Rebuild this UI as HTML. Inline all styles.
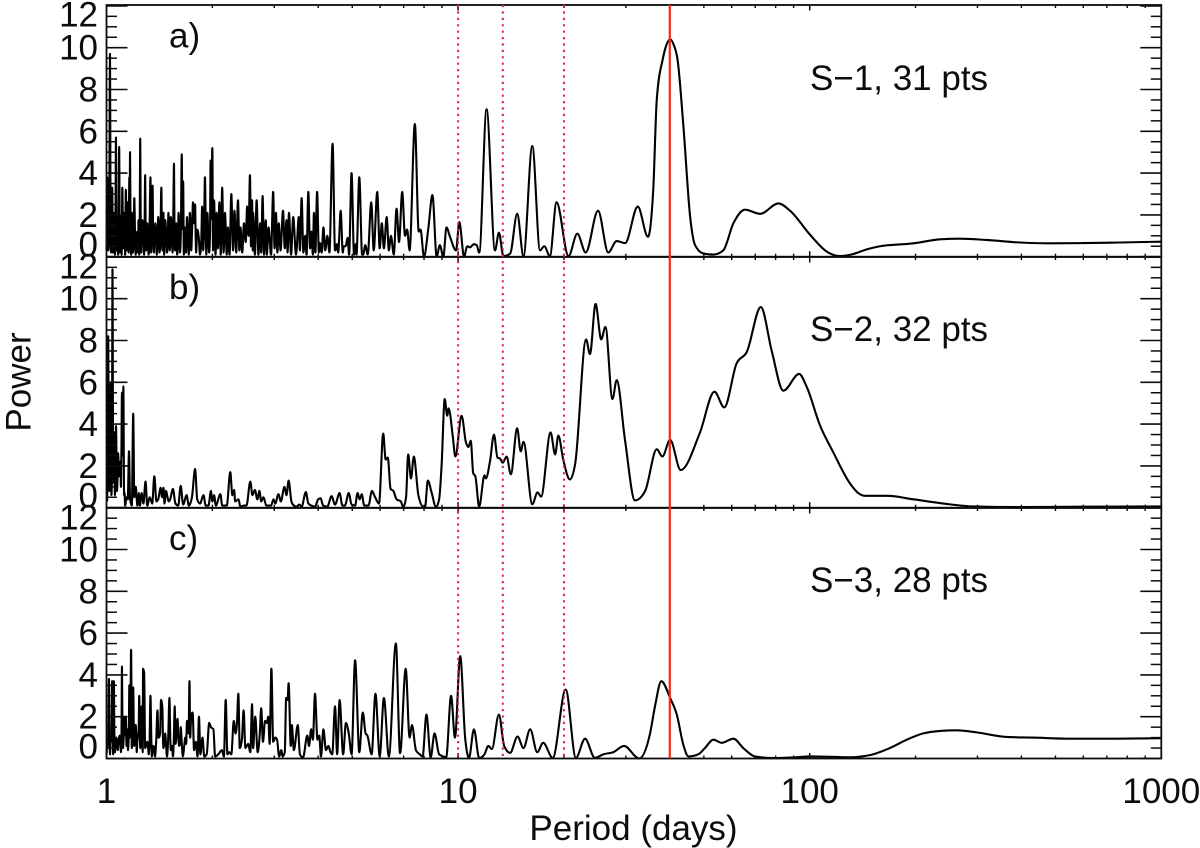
<!DOCTYPE html>
<html lang="en">
<head>
<meta charset="utf-8">
<title>Periodograms of S-1, S-2 and S-3</title>
<style>
html,body{margin:0;padding:0;background:#fff;}
svg{display:block;width:1200px;height:848px;}
text{font-family:"Liberation Sans",Arial,sans-serif;font-size:35px;fill:#0c0c0c;}
</style>
</head>
<body>
<svg id="chart" xmlns="http://www.w3.org/2000/svg" width="1200" height="848" viewBox="0 0 1200 848">
  <rect x="0" y="0" width="1200" height="848" fill="#ffffff"/>
  <g id="layer-panels"></g>
  <text transform="translate(30.5,382) rotate(-90)" text-anchor="middle">Power</text>
  <text x="633.5" y="840" text-anchor="middle">Period (days)</text>
  <text x="169" y="47.5">a)</text>
  <text x="169" y="299">b)</text>
  <text x="169" y="550">c)</text>
  <text x="810" y="90">S&#8722;1, 31 pts</text>
  <text x="810" y="341">S&#8722;2, 32 pts</text>
  <text x="810" y="592">S&#8722;3, 28 pts</text>
</svg>
<script>
// ---- Data: log10(period in days) and power ----
const s1LogPeriod = [
0,.002,.005,.010,.013,.016,.018,.021,.024,.027,
.029,.031,.033,.036,.038,.041,.043,.045,.048,.051,
.053,.055,.057,.060,.063,.065,.066,.067,.070,.072,
.075,.079,.083,.086,.089,.091,.093,.096,.099,.102,
.107,.110,.113,.116,.120,.125,.127,.131,.135,.139,
.143,.147,.151,.156,.159,.162,.164,.167,.172,.176,
.180,.183,.188,.192,.195,.198,.201,.205,.209,.214,
.216,.218,.220,.223,.226,.229,.234,.237,.241,.246,
.249,.252,.255,.258,.266,.272,.275,.280,.284,.287,
.292,.296,.298,.301,.303,.306,.310,.313,.317,.321,
.325,.329,.333,.337,.342,.345,.350,.355,.360,.364,
.369,.374,.378,.381,.386,.391,.396,.400,.404,.408,
.411,.414,.416,.417,.422,.427,.432,.437,.440,.444,
.448,.453,.456,.461,.468,.474,.478,.482,.486,.490,
.495,.502,.507,.512,.515,.519,.525,.531,.539,.547,
.550,.555,.560,.565,.569,.574,.579,.583,.587,.590,
.594,.599,.604,.607,.612,.617,.622,.628,.634,.643,
.650,.655,.659,.666,.672,.675,.680,.686,.690,.697,
.704,.709,.711,.719,.727,.730,.736,.743,.753,.760,
.770,.777,.783,.789,.797,.803,.809,.817,.825,.832,
.841,.849,.855,.862,.877,.888,.893,.903,.915,.927,
.939,.948,.958,.967,.977,.994,1.0035,1.017,1.026,1.034,
1.045,1.053,1.060,1.081,1.105,1.116,1.129,1.148,1.168,1.186,
1.211,1.233,1.245,1.261,1.280,1.314,1.339,1.363,1.398,1.427,
1.451,1.475,1.511,1.540,1.555,1.565,1.582,1.593,1.603,1.613,1.624,1.641,
1.660,1.674,1.698,1.726,1.754,1.783,1.816,1.859,1.911,1.944,
2.001,2.048,2.086,2.124,2.162,2.200,2.295,2.371,2.427,2.503,
2.598,2.683,2.778,2.882,3.0];
const s1Power = [
.3,3.8,.3,9.7,.2,3.3,.2,2.1,.1,5.7,
.3,1.9,.1,5.25,.2,1.9,.1,3.3,.4,2.1,
.1,3.2,.3,2.6,.2,3.8,2.5,5.0,.1,2.1,
.2,2.8,.1,1.1,.2,1.75,.1,5.65,.2,1.75,
.1,3.9,.3,1.6,.1,3.8,.2,3.4,.2,1.6,
.1,1.9,.2,3.3,.3,2.1,.1,1.75,.2,2.1,
.3,1.9,.2,4.45,.3,1.6,.1,2.1,.2,4.9,
1.5,3.6,.1,1.4,.2,1.9,.1,2.1,.3,2.6,
1.6,2.5,.2,1.3,.1,2.4,.3,3.8,.1,2.1,
.2,4.6,1.8,5.2,.3,2.7,.1,2.1,.4,2.6,
.1,3.3,.2,2.1,.1,1.4,.1,3.0,.3,2.2,
.2,2.7,.3,1.4,.2,1.6,.7,2.4,1.0,3.9,
.5,2.7,.3,2.1,.1,2.7,.1,1.6,.2,2.9,
.1,1.75,.1,1.4,.1,3.1,.4,2.1,.2,1.6,
.3,2.2,.4,1.75,.2,2.1,.1,1.9,.1,1.9,
.3,2.8,.2,1.0,.1,3.1,.4,1.2,.1,2.1,
.2,3.1,.2,.65,.2,1.4,.3,1.0,.2,5.4,
.3,.6,.2,2.2,.2,.5,.5,.9,.1,4.0,
.1,.6,.1,3.8,.1,.1,.55,.1,2.6,.3,
3.1,.4,1.6,.4,1.9,.3,1.0,.1,2.3,.7,
3.1,1.0,1.3,.3,6.35,1.2,1.3,0,1.3,2.95,
0,.55,0,1.4,.95,.3,1.65,0,.5,.45,
.6,.55,.2,7.05,.3,1.15,.03,.15,2.05,.03,
5.3,.3,.5,.03,2.6,.03,1.1,.2,2.2,.2,
.75,.65,2.4,.95,3.2,7.5,9.45,10.15,10.4,10.15,9.45,6.2,
1.9,.55,.15,.1,.3,1.6,2.25,2.05,2.55,2.2,
1.05,.25,.03,.13,.35,.5,.64,.83,.86,.8,
.68,.64,.65,.68,.72];
// Low-level fine structure of the dense short-period forest
const s1FineLogPeriod = [
.0035,.0075,.0115,.0145,.0175,.0195,.0225,.0255,.0285,.0325,
.0345,.0395,.0425,.0465,.0495,.0525,.0565,.0585,.0615,.0635,
.0685,.0735,.0775,.0815,.0845,.0875,.0905,.0945,.0975,.1005,
.1045,.1085,.1115,.1145,.1175,.1225,.1285,.1325,.1365,.1415,
.1455,.1495,.1535,.1575,.1605,.1655,.1695,.1745,.1785,.1855,
.1895,.1935,.1965,.1995,.2035,.2075,.2115,.2175,.2215,.2245,
.2275,.2315,.2355,.2395,.2435,.2535,.2625,.2695,.2735,.2775,
.2825,.2895,.2945,.3045,.3085,.3115,.3155];
const s1FinePower = [
1.6,1.1,1.8,1.4,1.2,1.7,.9,1.5,2.2,1.3,
1.1,1.6,.9,1.7,1.2,.8,1.4,1.5,.9,1.3,
1.2,1.5,1.0,.8,.7,1.2,.9,1.8,.8,1.1,
1.4,1.7,1.0,.7,.9,1.4,1.1,1.3,.8,.9,
.8,1.2,1.1,1.4,.7,.9,1.2,.8,1.0,1.1,
1.3,.9,1.0,.7,1.0,.8,1.2,1.3,.8,.6,
1.0,.9,.8,1.2,1.4,1.0,.9,.7,1.3,1.4,
1.1,1.0,1.2,1.1,.9,.7,1.1];

const s2LogPeriod = [
.002,.005,.008,.012,.014,.017,.019,.022,.024,.027,
.030,.033,.036,.038,.041,.044,.046,.048,.050,.053,
.057,.064,.067,.072,.076,.079,.083,.088,.092,.095,
.100,.105,.111,.116,.123,.130,.136,.142,.147,.154,
.158,.162,.165,.169,.177,.181,.189,.196,.204,.211,
.218,.228,.234,.243,.252,.258,.266,.276,.282,.290,
.297,.301,.306,.311,.324,.329,.342,.352,.358,.363,
.366,.375,.381,.391,.398,.409,.415,.422,.429,.435,
.440,.446,.455,.468,.475,.480,.489,.496,.506,.512,
.518,.526,.533,.541,.548,.555,.567,.574,.583,.593,
.602,.609,.616,.628,.640,.650,.663,.671,.678,.689,
.697,.707,.714,.720,.726,.733,.745,.755,.764,.775,
.787,.794,.800,.808,.816,.825,.837,.844,.852,.858,
.866,.874,.887,.901,.906,.914,.925,.937,.946,.953,
.962,.969,.973,.985,.992,1.010,1.022,1.029,1.036,1.043,
1.049,1.060,1.075,1.079,1.091,1.102,1.112,1.119,1.127,1.138,
1.150,1.168,1.178,1.186,1.211,1.226,1.236,1.263,1.276,1.285,
1.299,1.318,1.333,1.364,1.375,1.391,1.407,1.419,1.439,1.451,
1.475,1.503,1.532,1.565,1.581,1.603,1.633,1.688,1.729,1.757,
1.792,1.821,1.861,1.892,1.925,1.970,1.991,2.029,2.067,2.115,
2.138,2.157,2.219,2.295,2.380,2.465,2.598,2.778,3.0];
const s2Power = [
.3,8.2,.8,6.0,.6,11.4,1.2,3.6,.6,3.9,
.8,2.6,1.5,2.0,1.0,5.5,2.5,5.8,.6,.1,
.5,2.7,.4,.1,4.5,.5,1.0,.1,.7,.1,
.7,.2,1.25,.1,.5,.2,1.5,.3,.4,.95,
.5,.95,.2,.8,.3,.4,.9,.2,.1,1.05,
.15,.6,.1,.5,1.85,.4,.2,.6,.1,.1,
.8,.3,.6,.1,.65,.1,.1,1.7,.6,.85,
.3,.4,.05,.1,.1,1.25,.6,.85,.4,.8,
.3,.5,.1,.1,.4,.2,.65,.3,1.0,.6,
1.3,.3,.1,.05,.15,.05,.75,.2,.1,.05,
.4,.45,.1,.05,.55,.15,.7,.1,.1,.7,
.15,.1,.7,.4,.65,.1,.1,.8,.5,.2,
3.55,2.3,2.4,.9,.8,.4,.3,.03,.5,2.55,
1.4,2.45,.6,.05,.05,1.3,.7,.03,.4,2.0,
5.2,4.4,4.75,3.4,2.45,4.4,3.15,2.9,3.2,1.65,
1.5,.05,1.55,1.4,2.25,3.5,2.4,2.35,2.15,2.45,
1.6,3.8,2.7,3.15,.17,.73,.53,3.6,2.55,3.45,
2.3,1.35,2.1,8.05,7.35,9.75,8.05,8.65,5.2,6.1,
3.2,.35,.8,2.8,2.45,3.25,1.8,3.6,5.55,4.8,
6.9,7.45,9.6,7.5,5.6,6.4,5.8,3.95,2.65,1.15,
.7,.57,.57,.4,.2,.06,.03,.05,.06];
const s2FineLogPeriod = [.0065,.0105,.0155,.0205,.0255,.0315,.0395,.0425,.0515,.0605];
const s2FinePower = [1.5,2.2,1.7,2.5,2.0,1.6,2.2,2.8,.7,.4];

const s3LogPeriod = [
0,.003,.007,.010,.013,.016,.019,.021,.024,.027,
.032,.038,.041,.044,.047,.051,.055,.057,.061,.065,
.066,.070,.072,.076,.079,.083,.086,.089,.093,.096,
.100,.103,.104,.107,.110,.116,.120,.125,.129,.133,
.138,.145,.149,.155,.159,.162,.167,.172,.179,.183,
.189,.194,.198,.202,.207,.211,.217,.224,.229,.236,
.238,.241,.245,.249,.254,.259,.263,.267,.273,.278,
.285,.292,.297,.304,.309,.318,.328,.334,.339,.344,
.349,.355,.362,.367,.371,.375,.379,.385,.390,.395,
.403,.409,.414,.417,.423,.430,.436,.440,.445,.451,
.456,.460,.464,.469,.474,.480,.485,.491,.497,.501,
.507,.511,.515,.518,.524,.527,.533,.544,.550,.559,
.571,.576,.582,.587,.593,.600,.605,.610,.617,.624,
.631,.637,.642,.650,.656,.663,.673,.681,.689,.697,
.707,.719,.729,.737,.742,.754,.765,.777,.789,.803,
.823,.835,.851,.862,.869,.880,.891,.899,.910,.922,
.933,.946,.958,.966,.980,.991,1.006,1.020,1.031,1.045,
1.060,1.075,1.086,1.096,1.116,1.131,1.148,1.169,1.186,1.205,
1.225,1.242,1.269,1.306,1.335,1.361,1.389,1.413,1.441,1.472,
1.515,1.546,1.560,1.578,1.603,1.622,1.641,1.655,1.683,1.702,
1.726,1.750,1.783,1.811,1.844,1.897,1.953,2.001,2.115,2.171,
2.228,2.276,2.323,2.371,2.418,2.475,2.560,2.636,2.731,2.873,
3.0];
const s3Power = [
.2,.6,3.8,.2,.8,3.7,.2,3.7,.3,1.0,
.4,1.1,.3,4.4,.5,2.0,2.0,.6,.4,3.5,
1.0,5.2,.5,3.4,.6,1.6,.3,1.0,3.0,.5,
2.5,.3,4.3,4.1,.5,.8,.2,3.0,.1,.6,
.1,2.3,1.0,2.8,2.4,.5,1.2,.1,2.9,.4,
.1,2.5,1.0,1.9,.6,1.5,.1,1.0,1.8,3.7,
1.0,2.1,2.2,.4,.8,.1,2.0,.2,1.0,.1,
.2,1.7,1.5,1.4,.1,.2,.4,.1,2.8,.2,
.3,.2,1.8,1.2,1.7,3.1,.5,.9,2.3,.5,
.7,.3,2.6,.5,2.0,.3,1.2,2.4,.8,1.8,
1.7,2.0,.7,4.3,.8,1.0,.9,.1,.4,.1,
.3,2.9,2.8,3.6,.6,1.6,.4,1.6,.2,.05,
1.1,.6,1.4,.9,3.1,.9,1.1,.1,1.4,.4,
.6,.3,.2,2.5,.2,2.8,.2,1.7,1.2,.2,
4.7,.3,2.2,1.2,1.1,.2,3.1,.1,2.9,.1,
5.5,.25,4.3,1.0,1.6,.4,.2,.1,2.1,.05,
1.2,.2,.1,.05,3.0,1.0,4.9,1.0,.03,1.4,
.02,.2,.6,.45,2.1,.6,.27,1.05,.5,1.4,
.3,.75,.03,3.3,.03,.95,.03,.2,.3,.6,
0,1.2,2.5,3.7,2.9,2.1,.63,.1,.2,.5,
.9,.75,.95,.5,.1,.02,.05,.1,.06,.16,
.5,.9,1.2,1.32,1.35,1.25,1.03,1.0,.95,.95,
.97];
const s3FineLogPeriod = [
.0015,.0055,.0085,.0115,.0145,.0175,.0225,.0295,.0355,.0395,
.0425,.0455,.0495,.0535,.0595,.0635,.0675,.0745,.0775,.0815,
.0845,.0875,.0915,.0985,.1015,.1125,.1185,.1225,.1275,.1355,
.1415,.1475,.1525,.1605,.1645,.1695,.1755,.1815,.1865,.1915,
.1965,.2045,.2095,.2145,.2205,.2265,.2335];
const s3FinePower = [
.5,1.0,1.2,.9,1.1,1.3,1.0,.9,1.0,.8,
.9,1.2,1.3,1.1,1.4,1.2,1.5,1.3,1.6,1.0,
1.2,.8,1.3,1.1,1.2,.6,.5,.8,.9,.5,
.9,1.0,1.2,1.0,.8,.6,1.0,.9,.6,.9,
.7,.9,.8,.6,.5,.7,1.2];

const xTickLabels = ["1", "10", "100", "1000"];
const xDecades = [1, 10, 100, 1000];
const xMinorMultiples = [2, 3, 4, 5, 6, 7, 8, 9];
const yMajorTicks = [0, 2, 4, 6, 8, 10, 12];
const yMinorTicks = [0.5, 1, 1.5, 2.5, 3, 3.5, 4.5, 5, 5.5, 6.5, 7, 7.5, 8.5, 9, 9.5, 10.5, 11, 11.5];
const dottedPeriods = [10, 13.4, 20];
const solidPeriods = [40];

// ---- Axis functions ----
const NS = "http://www.w3.org/2000/svg";
const AXIS_LEFT = 106.5, AXIS_RIGHT = 1161.3, PX_PER_DECADE = 351.6, PX_PER_POWER = 20.9;
const INK = "#0c0c0c";
function xFromLog(logP) { return AXIS_LEFT + PX_PER_DECADE * logP; }
function xFromPeriod(p) { return xFromLog(Math.log10(p)); }
function make(tag, parent) {
  const el = document.createElementNS(NS, tag);
  parent.appendChild(el);
  return el;
}
function drawLine(el, x1, y1, x2, y2, width, color) {
  el.setAttribute("x1", x1);
  el.setAttribute("y1", y1);
  el.setAttribute("x2", x2);
  el.setAttribute("y2", y2);
  el.setAttribute("stroke", color);
  el.setAttribute("stroke-width", width);
}
function mergeSeries(logA, powA, logB, powB) {
  const pairs = [];
  logA.forEach(function (v, i) { pairs.push([v, powA[i]]); });
  logB.forEach(function (v, i) { pairs.push([v, powB[i]]); });
  pairs.sort(function (p, q) { return p[0] - q[0]; });
  return pairs;
}
function sgn(v) { return v < 0 ? -1 : 1; }
function monotonePath(xs, ys) {
  const n = Math.min(xs.length, ys.length);
  const t = new Array(n);
  for (let i = 1; i < n - 1; i++) {
    const h0 = xs[i] - xs[i - 1], h1 = xs[i + 1] - xs[i];
    const s0 = (ys[i] - ys[i - 1]) / h0, s1 = (ys[i + 1] - ys[i]) / h1;
    const p = (s0 * h1 + s1 * h0) / (h0 + h1);
    t[i] = (sgn(s0) + sgn(s1)) * Math.min(Math.abs(s0), Math.abs(s1), 0.5 * Math.abs(p)) || 0;
  }
  t[0] = (ys[1] - ys[0]) / (xs[1] - xs[0]);
  t[n - 1] = (ys[n - 1] - ys[n - 2]) / (xs[n - 1] - xs[n - 2]);
  let d = "M" + xs[0].toFixed(2) + " " + ys[0].toFixed(2);
  for (let i = 1; i < n; i++) {
    const dx = (xs[i] - xs[i - 1]) / 3;
    d += "C" + (xs[i - 1] + dx).toFixed(2) + " " + (ys[i - 1] + dx * t[i - 1]).toFixed(2) + " " +
      (xs[i] - dx).toFixed(2) + " " + (ys[i] - dx * t[i]).toFixed(2) + " " +
      xs[i].toFixed(2) + " " + ys[i].toFixed(2);
  }
  return d;
}

// ---- Panels ----
const panelsRoot = document.getElementById("layer-panels");
const panels = [
  { id: "a", top: 5, bottom: 256.7, pairs: mergeSeries(s1LogPeriod, s1Power, s1FineLogPeriod, s1FinePower) },
  { id: "b", top: 257, bottom: 507.7, pairs: mergeSeries(s2LogPeriod, s2Power, s2FineLogPeriod, s2FinePower) },
  { id: "c", top: 508, bottom: 758.5, pairs: mergeSeries(s3LogPeriod, s3Power, s3FineLogPeriod, s3FinePower) }
];

panels.forEach(function (panel, index) {
  const yScale = function (v) { return panel.bottom - PX_PER_POWER * v; };

  const g = make("g", panelsRoot);
  
  

  const curve = make("path", g);
  
  
  curve.setAttribute("fill", "none");
  curve.setAttribute("stroke", "#000");
  curve.setAttribute("stroke-width", "2.1");
  curve.setAttribute("stroke-linejoin", "round");
  curve.setAttribute("d", monotonePath(
    panel.pairs.map(function (p) { return xFromLog(p[0]); }),
    panel.pairs.map(function (p) { return yScale(p[1]); })
  ));

  const frame = make("rect", g);
  
  
  frame.setAttribute("x", AXIS_LEFT);
  frame.setAttribute("y", panel.top);
  frame.setAttribute("width", AXIS_RIGHT - AXIS_LEFT);
  frame.setAttribute("height", panel.bottom - panel.top);
  frame.setAttribute("fill", "none");
  frame.setAttribute("stroke", INK);
  frame.setAttribute("stroke-width", "1.8");

  yMajorTicks.forEach(function (v) {
    const y = yScale(v);
    const left = make("line", g);
    
    
    drawLine(left, AXIS_LEFT, y, AXIS_LEFT + 21, y, 1.6, INK);
    const right = make("line", g);
    
    
    drawLine(right, AXIS_RIGHT - 21, y, AXIS_RIGHT, y, 1.6, INK);
    const label = make("text", g);
    
    
    label.setAttribute("x", 98);
    let base = y + 12;
    if (v === yMajorTicks[yMajorTicks.length - 1]) base = panel.top + 21.5;
    if (v === yMajorTicks[0]) base = panel.bottom;
    label.setAttribute("y", base);
    label.setAttribute("text-anchor", "end");
    label.textContent = String(v);
  });

  yMinorTicks.forEach(function (v) {
    const y = yScale(v);
    const left = make("line", g);
    
    
    drawLine(left, AXIS_LEFT, y, AXIS_LEFT + 10.5, y, 1.5, INK);
    const right = make("line", g);
    
    
    drawLine(right, AXIS_RIGHT - 10.5, y, AXIS_RIGHT, y, 1.5, INK);
  });

  xDecades.forEach(function (decade, di) {
    const x = xFromPeriod(decade);
    if (di > 0 && di < xDecades.length - 1) {
      const topTick = make("line", g);
      
      
      drawLine(topTick, x, panel.top, x, panel.top + 5.5, 1.5, INK);
      const botTick = make("line", g);
      
      
      drawLine(botTick, x, panel.bottom - 5.5, x, panel.bottom, 1.5, INK);
    }
    if (di < xDecades.length - 1) {
      xMinorMultiples.forEach(function (m) {
        const xm = xFromPeriod(decade * m);
        const topMinor = make("line", g);
        
        
        drawLine(topMinor, xm, panel.top, xm, panel.top + 3, 1.4, INK);
        const botMinor = make("line", g);
        
        
        drawLine(botMinor, xm, panel.bottom - 3, xm, panel.bottom, 1.4, INK);
      });
    }
    if (index === panels.length - 1) {
      const lab = make("text", g);
      
      
      lab.setAttribute("x", x);
      lab.setAttribute("y", 803);
      lab.setAttribute("text-anchor", "middle");
      lab.textContent = xTickLabels[di];
    }
  });
});

// ---- Reference period lines ----
dottedPeriods.forEach(function (p) {
  const ln = make("line", panelsRoot);
  
  
  drawLine(ln, xFromPeriod(p), 5, xFromPeriod(p), 758.5, 2, "#e4203c");
  ln.setAttribute("stroke-dasharray", "2.2 4.2");
});
solidPeriods.forEach(function (p) {
  const ln = make("line", panelsRoot);
  
  
  drawLine(ln, xFromPeriod(p), 5, xFromPeriod(p), 758.5, 2.2, "#ee2c14");
});
</script>
</body>
</html>
